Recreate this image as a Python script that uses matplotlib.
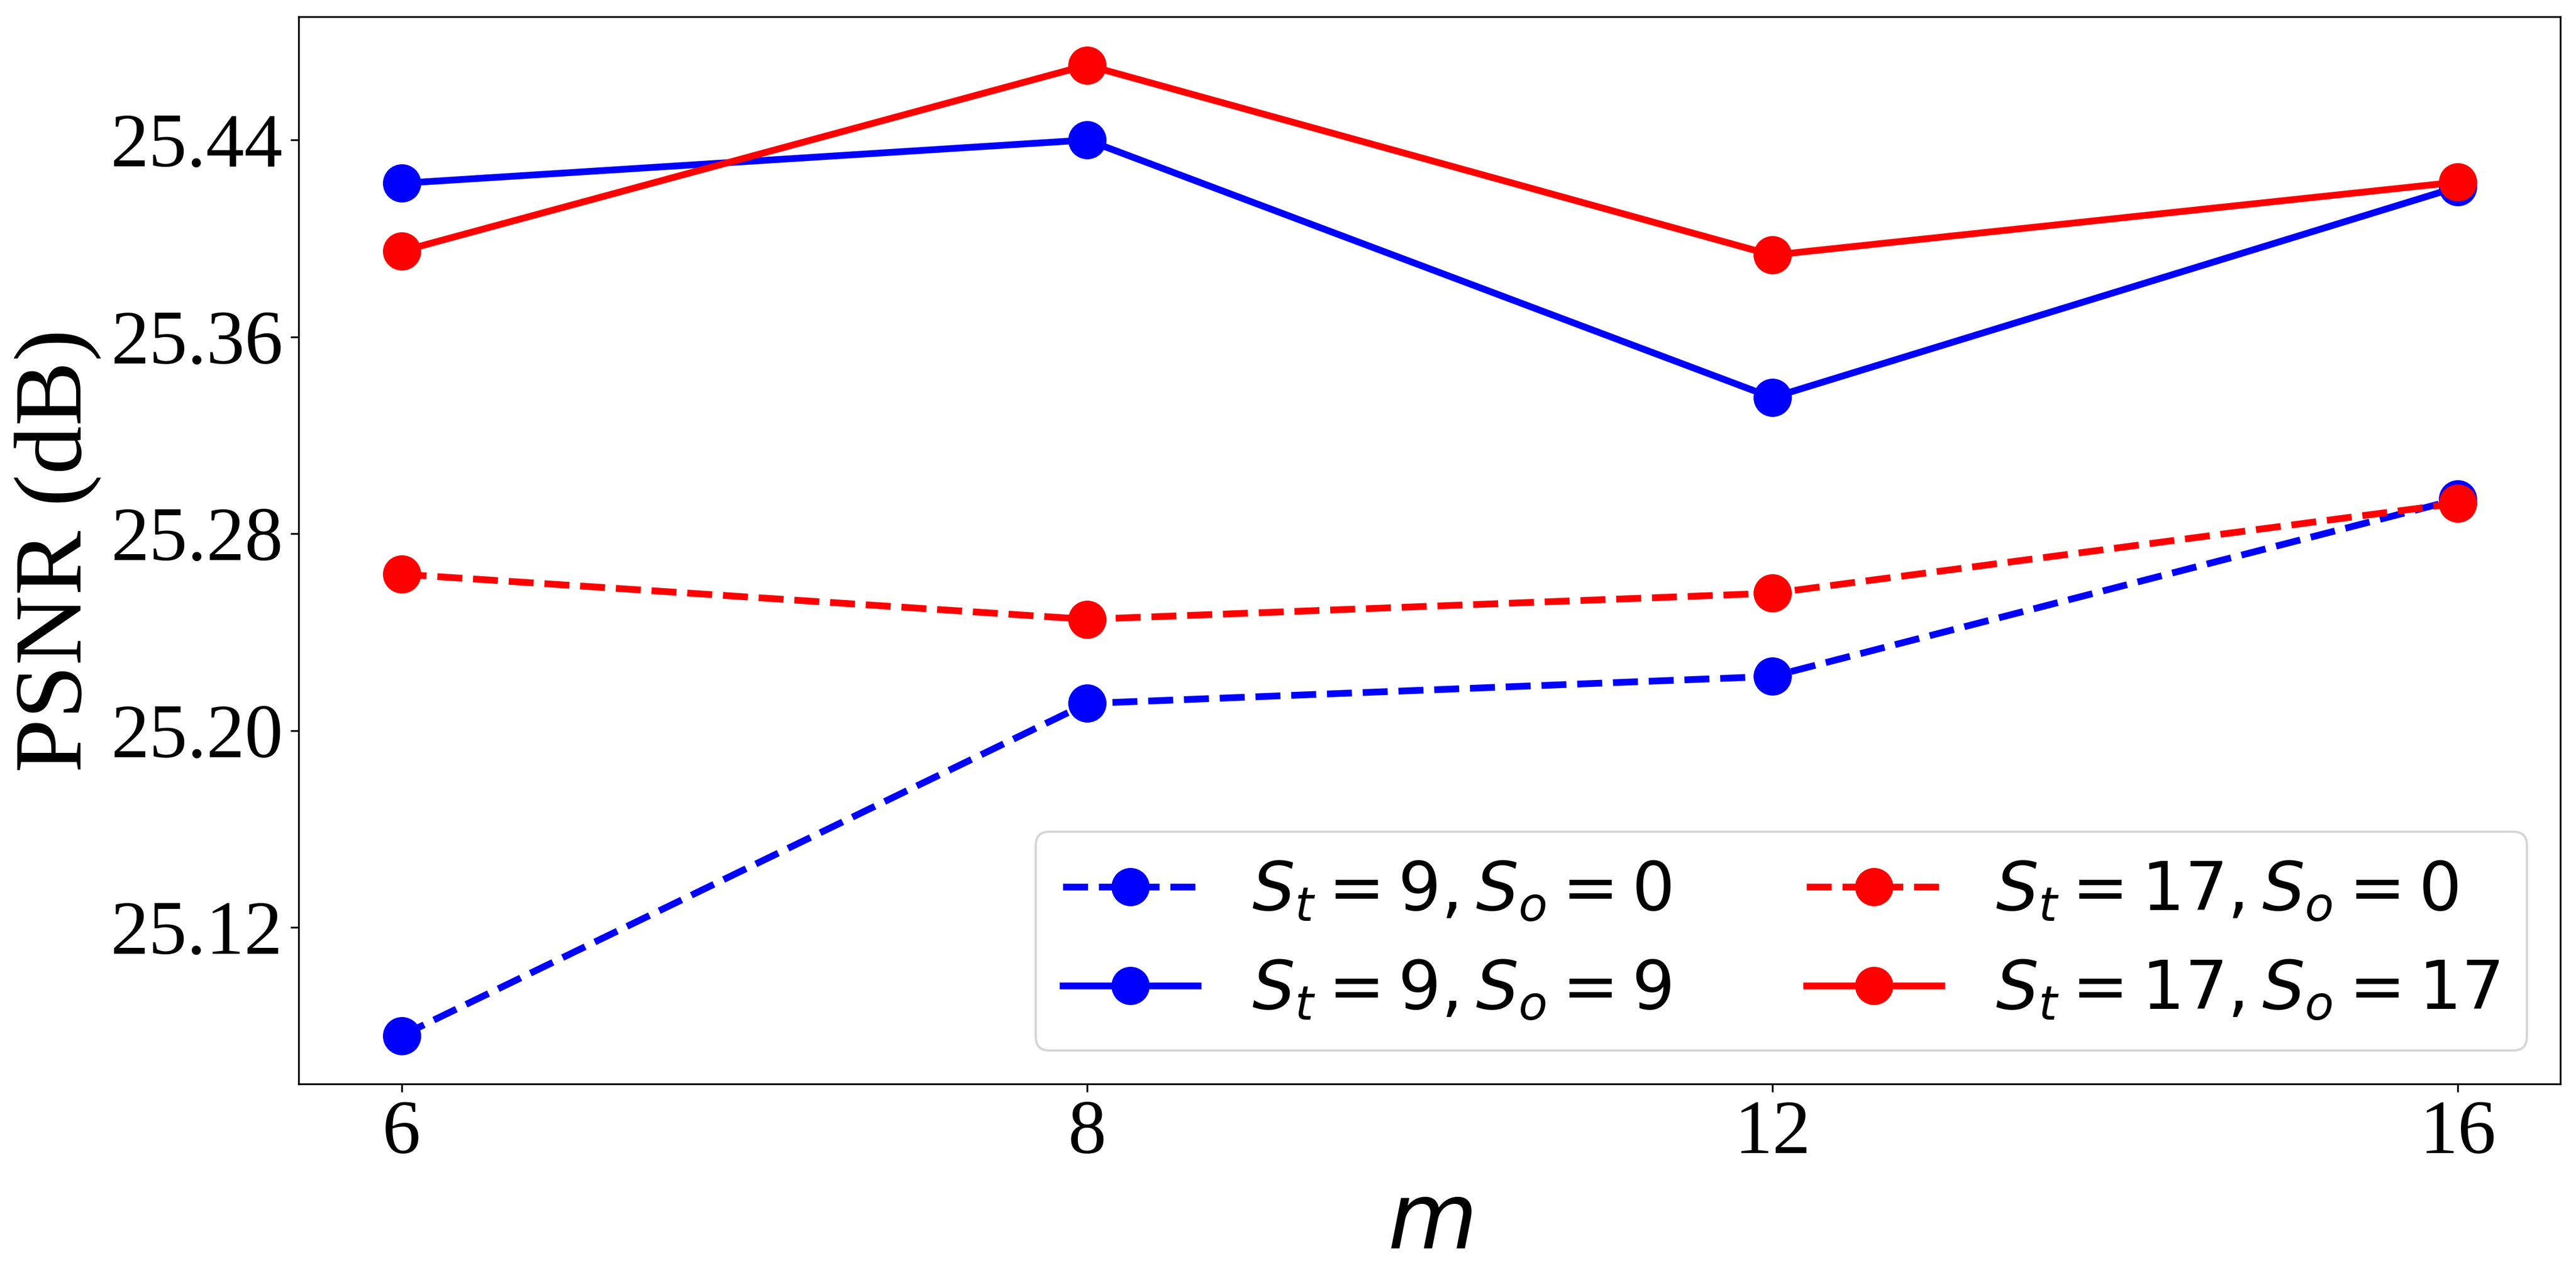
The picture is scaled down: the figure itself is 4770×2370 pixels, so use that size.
import numpy as np
import matplotlib.pyplot as plt

# m values (drawn at equal spacing)
m_labels = ['6', '8', '12', '16']

# PSNR (dB)
psnr_t9_o0 = [25.076, 25.211, 25.222, 25.294]
psnr_t9_o9 = [25.4224, 25.440, 25.3353, 25.4209]
psnr_t17_o0 = [25.2635, 25.2452, 25.2558, 25.2924]
psnr_t17_o17 = [25.3948, 25.4704, 25.3932, 25.4229]

yticks = [25.12, 25.20, 25.28, 25.36, 25.44]

x = np.arange(len(m_labels))

fig = plt.figure(figsize=(15.9, 7.9), dpi=300)
ax = fig.add_axes([0.116, 0.153, 0.878, 0.834])

ax.plot(x, psnr_t9_o0, '--', color='blue', marker='o', markersize=16, linewidth=3,
        label=r'$S_t=9,S_o=0$')
ax.plot(x, psnr_t9_o9, '-', color='blue', marker='o', markersize=16, linewidth=3,
        label=r'$S_t=9,S_o=9$')
ax.plot(x, psnr_t17_o0, '--', color='red', marker='o', markersize=16, linewidth=3,
        label=r'$S_t=17,S_o=0$')
ax.plot(x, psnr_t17_o17, '-', color='red', marker='o', markersize=16, linewidth=3,
        label=r'$S_t=17,S_o=17$')

ax.set_xticks(x)
ax.set_xticklabels(m_labels, fontname='Liberation Serif', fontsize=34)
ax.set_yticks(yticks)
ax.set_yticklabels(['%.2f' % v for v in yticks], fontname='Liberation Serif', fontsize=34)

ax.set_xlabel(r'$m$', fontsize=41)
ax.set_ylabel('PSNR (dB)', fontname='Liberation Serif', fontsize=43)

ax.legend(ncol=2, loc='lower right', fontsize=30)

fig.savefig('out.png')
